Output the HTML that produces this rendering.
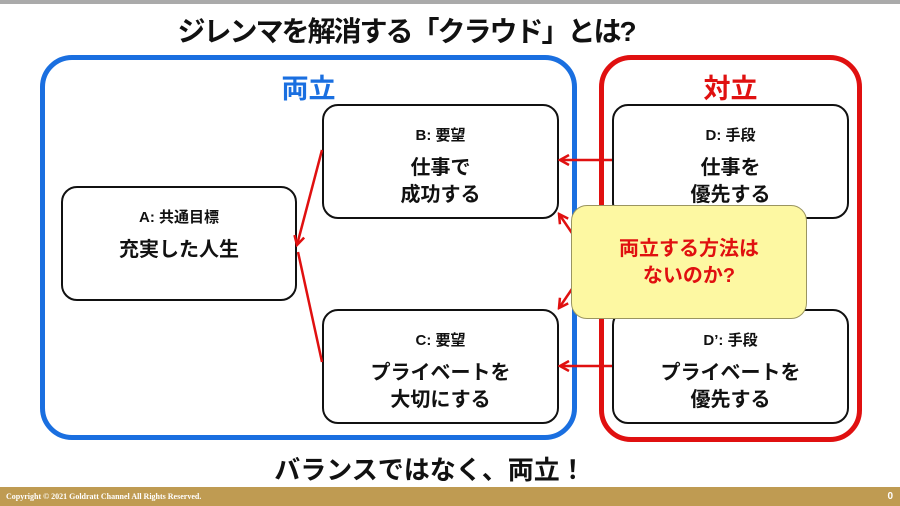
<!DOCTYPE html>
<html><head><meta charset="utf-8"><style>
body{margin:0;width:900px;height:506px;position:relative;background:#fff;overflow:hidden;font-family:"Liberation Sans","Noto Sans CJK JP",sans-serif;}
.abs{position:absolute;box-sizing:border-box}
.box{position:absolute;box-sizing:border-box;border:2px solid #111;border-radius:16px;background:#fff;text-align:center;font-weight:bold;color:#111}
.lbl{font-size:15px;margin-top:18px}
.main{font-size:20px;line-height:27px;margin-top:10px}
</style></head><body>
<div class="abs" style="left:0;top:0;width:900px;height:4px;background:#aaa"></div>
<div class="abs" style="left:0;top:10px;width:812px;text-align:center;font-size:28px;font-weight:bold;color:#111;letter-spacing:-2px">ジレンマを解消する「クラウド」とは?</div>
<div class="abs" style="left:40px;top:55px;width:537px;height:385px;border:5px solid #1a6fe0;border-radius:32px"></div>
<div class="abs" style="left:599px;top:55px;width:263px;height:387px;border:5px solid #e01010;border-radius:32px"></div>
<div class="abs" style="left:40px;top:67px;width:537px;text-align:center;font-size:27px;font-weight:bold;color:#1a6fe0">両立</div>
<div class="abs" style="left:599px;top:67px;width:263px;text-align:center;font-size:27px;font-weight:bold;color:#e01010">対立</div>
<div class="box" style="left:61px;top:186px;width:236px;height:115px"><div class="lbl">A: 共通目標</div><div class="main">充実した人生</div></div>
<div class="box" style="left:322px;top:104px;width:237px;height:115px"><div class="lbl">B: 要望</div><div class="main">仕事で<br>成功する</div></div>
<div class="box" style="left:322px;top:309px;width:237px;height:115px"><div class="lbl">C: 要望</div><div class="main">プライベートを<br>大切にする</div></div>
<div class="box" style="left:612px;top:104px;width:237px;height:115px"><div class="lbl">D: 手段</div><div class="main">仕事を<br>優先する</div></div>
<div class="box" style="left:612px;top:309px;width:237px;height:115px"><div class="lbl">D’: 手段</div><div class="main">プライベートを<br>優先する</div></div>
<svg class="abs" style="left:0;top:0" width="900" height="506">
<defs><marker id="ah" markerWidth="12" markerHeight="12" refX="10" refY="6" orient="auto" markerUnits="userSpaceOnUse"><path d="M1,1 L10,6 L1,11" fill="none" stroke="#e01010" stroke-width="2.5"/></marker></defs>
<g stroke="#e01010" stroke-width="2.5" fill="none">
<line x1="612" y1="160" x2="560" y2="160" marker-end="url(#ah)"/>
<line x1="612" y1="366" x2="560" y2="366" marker-end="url(#ah)"/>
<line x1="322" y1="150" x2="297" y2="245" marker-end="url(#ah)"/>
<line x1="322" y1="362" x2="298" y2="252"/>
<line x1="574" y1="236" x2="559" y2="214" marker-end="url(#ah)"/>
<line x1="574" y1="286" x2="559" y2="308" marker-end="url(#ah)"/>
</g></svg>
<div class="abs" style="left:571px;top:205px;width:236px;height:114px;background:#fdf8a2;border:1.5px solid #9a9560;border-radius:16px;text-align:center;color:#e01010;font-weight:bold;font-size:20px;line-height:27px;padding-top:30px">両立する方法は<br>ないのか?</div>
<div class="abs" style="left:0;top:450px;width:860px;text-align:center;font-size:26px;font-weight:bold;color:#111">バランスではなく、両立！</div>
<div class="abs" style="left:0;top:487px;width:900px;height:19px;background:#bf9b52;color:#fff;font-family:'Liberation Serif',serif;font-size:8px;font-weight:bold;line-height:19px;padding-left:6px">Copyright © 2021 Goldratt Channel All Rights Reserved.<span style="position:absolute;right:7px;font-size:10px;font-family:'Liberation Sans'">0</span></div>
</body></html>
